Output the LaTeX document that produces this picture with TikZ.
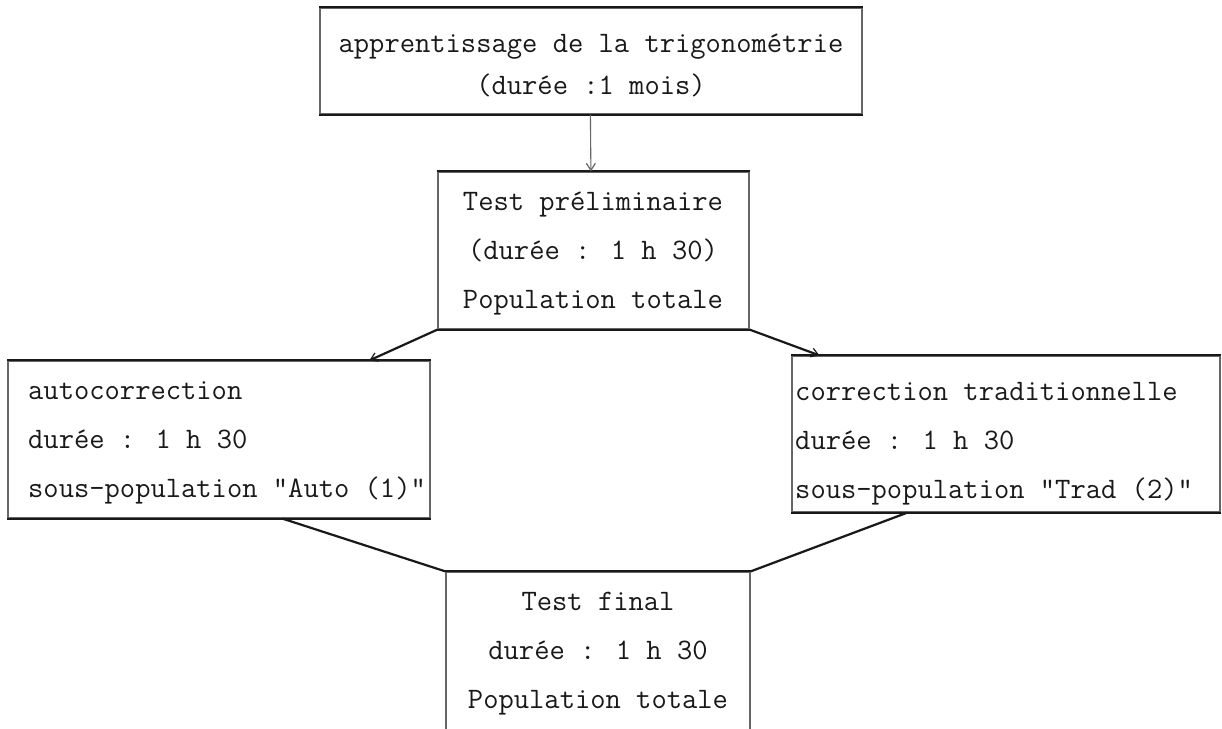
\documentclass[tikz,border=0pt]{standalone}
\usepackage{fontspec}
\usetikzlibrary{arrows.meta,calc}
\begin{document}
\begin{tikzpicture}[x=1pt,y=-1pt,
  txt/.style={font=\ttfamily\fontsize{29.7}{49}\selectfont, inner sep=0pt, text=black!90},
  frame/.style={draw=black!60, line width=1.2pt, inner sep=0pt},
  hedge/.style={draw=black!90, line width=2pt},
  conn/.style={draw=black!90, line width=2.2pt},
  thinconn/.style={draw=black!60, line width=1.1pt},
  tip/.style={-{Straight Barb[length=7pt,width=9pt,line width=1.2pt]}}
]
\clip (0,0) rectangle (1222,728);
\fill[white] (0,0) rectangle (1222,728);

% boxes
\node[frame, minimum width=542, minimum height=106] (T) at (591,61) {};
\node[frame, minimum width=311, minimum height=157] (M) at (593.5,250.5) {};
\node[frame, minimum width=422, minimum height=157] (L) at (219,439.5) {};
\node[frame, minimum width=428, minimum height=156] (R) at (1006,434) {};
\node[frame, minimum width=304, minimum height=200] (F) at (598,672) {};

% heavier horizontal edges
\foreach \b in {T,M,L,R}{
  \draw[hedge] (\b.north west) -- (\b.north east);
  \draw[hedge] (\b.south west) -- (\b.south east);
}
\draw[hedge] (F.north west) -- (F.north east);

% texts
\node[txt, font=\ttfamily\fontsize{29.7}{42}\selectfont, align=center] (Tt) at (591,65) {apprentissage de la trigonométrie\\(durée :1 mois)};
\node[txt, align=center] (Mt) at (593,254) {Test préliminaire\\(durée : 1 h 30)\\Population totale};
\node[txt, align=left, anchor=west] (Lt) at (28,443) {autocorrection\\durée : 1 h 30\\sous-population "Auto (1)"};
\node[txt, align=left, anchor=west] (Rt) at (795,444) {correction traditionnelle\\durée : 1 h 30\\sous-population "Trad (2)"};
\node[txt, align=center] (Ft) at (598,654) {Test final\\durée : 1 h 30\\Population totale};

% connector end points
\coordinate (Tb) at ($(T.south west)+(271,0)$);
\coordinate (Mtop) at ($(M.north west)+(153.5,0)$);
\coordinate (Ltop) at ($(L.north west)+(362,0)$);
\coordinate (Rtop) at ($(R.north west)+(28,0)$);
\coordinate (Lbot) at ($(L.south west)+(275,0)$);
\coordinate (Rbot) at ($(R.south west)+(116,0)$);

% connectors
\draw[thinconn, tip] (Tb) -- (Mtop);
\draw[conn, tip] (M.south west) -- (Ltop);
\draw[conn, tip] (M.south east) -- (Rtop);
\draw[conn] (Lbot) -- (F.north west);
\draw[conn] (Rbot) -- (F.north east);
\end{tikzpicture}
\end{document}
